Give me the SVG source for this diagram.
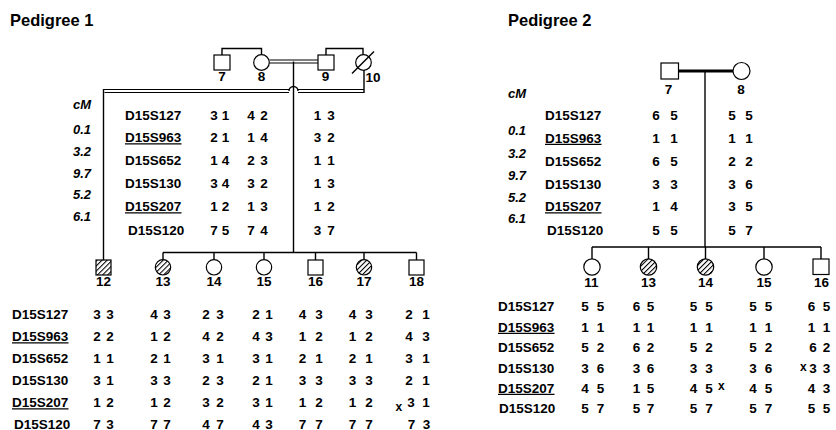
<svg xmlns="http://www.w3.org/2000/svg" width="836" height="430" viewBox="0 0 836 430">
<defs>
<pattern id="hatch" patternUnits="userSpaceOnUse" width="3.6" height="3.6" patternTransform="rotate(45)">
<line x1="0.5" y1="0" x2="0.5" y2="3.6" stroke="#000" stroke-width="1.1"/>
</pattern>
</defs>
<style>
.t{font-family:"Liberation Sans",Arial,Helvetica,sans-serif;font-weight:bold;fill:#000}
.title{font-size:16.5px}
.m{font-size:13.5px}
.a{font-size:13.5px}
.id{font-size:13.5px;text-anchor:middle}
.cm{font-size:13px;font-style:italic}
.x{font-size:12px}
.sym{fill:#fff;stroke:#000;stroke-width:1.2}
.hat{fill:url(#hatch);stroke:#000;stroke-width:1.2}
.ln{fill:none;stroke:#000;stroke-width:1.4}
.dbl{fill:none;stroke:#000;stroke-width:1.1}
.thick{fill:none;stroke:#000;stroke-width:3}
.ul{stroke:#000;stroke-width:1.2}
</style>
<rect width="836" height="430" fill="#fff"/>

<text class="t title" x="10" y="26">Pedigree 1</text>
<text class="t title" x="508" y="26">Pedigree 2</text>

<g id="connectors">
  <!-- Pedigree 1 -->
  <path class="ln" d="M222,55 V48.5 H261.5 V54.7"/>
  <path class="ln" d="M326,55 V48.5 H363 V54.7"/>
  <path class="dbl" d="M269.3,60 H318 M269.3,63 H318"/>
  <path class="ln" d="M293.5,61.5 V252.5"/>
  <path class="dbl" d="M103,89.5 H289 M298,89.5 H364 M104.5,92.5 H289 M298,92.5 H364"/>
  <path class="ln" d="M289,91 A4.5,4.5 0 0 1 298,91"/>
  <path class="ln" d="M364,70.3 V93"/>
  <path class="ln" d="M103.5,89 V260"/>
  <path class="ln" d="M163,252.5 H416.5 M163,252.5 V259.6 M214,252.5 V259.6 M264,252.5 V259.6 M315.5,252.5 V260 M364,252.5 V259.6 M416.5,252.5 V260"/>
  <!-- Pedigree 2 -->
  <path class="thick" d="M679,71 H733"/>
  <path class="ln" d="M705,71 V247"/>
  <path class="ln" d="M592,247 H821 M592,247 V259 M648.5,247 V259 M705.5,247 V259 M764,247 V259 M821,247 V259"/>
</g>

<!-- Pedigree 1 nodes -->
<g id="p1-7"><rect class="sym" x="214" y="55" width="16" height="15"/><text class="t id" x="222" y="81">7</text></g>
<g id="p1-8"><circle class="sym" cx="261.5" cy="62.5" r="7.8"/><text class="t id" x="261.5" y="81">8</text></g>
<g id="p1-9"><rect class="sym" x="318" y="55" width="16" height="15"/><text class="t id" x="325.5" y="81">9</text></g>
<g id="p1-10"><circle class="sym" cx="363.5" cy="62.5" r="7.8"/><line x1="352" y1="73.5" x2="374" y2="51.5" stroke="#000" stroke-width="1.4"/><text class="t id" x="373" y="82">10</text></g>
<g id="p1-12"><rect class="hat" x="96" y="260" width="15" height="15"/><text class="t id" x="103.5" y="286">12</text></g>
<g id="p1-13"><circle class="hat" cx="163" cy="267.3" r="7.7"/><text class="t id" x="163" y="286">13</text></g>
<g id="p1-14"><circle class="sym" cx="214" cy="267.3" r="7.7"/><text class="t id" x="214" y="286">14</text></g>
<g id="p1-15"><circle class="sym" cx="264" cy="267.3" r="7.7"/><text class="t id" x="264" y="286">15</text></g>
<g id="p1-16"><rect class="sym" x="308" y="260" width="15" height="15"/><text class="t id" x="315.5" y="286">16</text></g>
<g id="p1-17"><circle class="hat" cx="364" cy="267.3" r="7.7"/><text class="t id" x="364" y="286">17</text></g>
<g id="p1-18"><rect class="sym" x="409" y="260" width="15" height="15"/><text class="t id" x="416.5" y="286">18</text></g>

<!-- Pedigree 1 upper table -->
<g id="p1-cm" class="t cm">
  <text x="73" y="108.5">cM</text>
  <text x="73" y="133.5">0.1</text>
  <text x="73" y="155.5">3.2</text>
  <text x="73" y="177.5">9.7</text>
  <text x="73" y="199">5.2</text>
  <text x="73" y="220.5">6.1</text>
</g>
<g id="p1-markers-top" class="t m">
  <text x="125" y="119.5">D15S127</text>
  <text x="125" y="142">D15S963</text>
  <text x="125" y="165">D15S652</text>
  <text x="125" y="188">D15S130</text>
  <text x="125" y="211">D15S207</text>
  <text x="128" y="235">D15S120</text>
  <line class="ul" x1="125" y1="143.8" x2="181.5" y2="143.8"/>
  <line class="ul" x1="125" y1="212.8" x2="181.5" y2="212.8"/>
</g>
<g id="p1-haplo-top" class="t a">
  <text><tspan x="210.25 217.75 221.75" y="119.5">3 1</tspan><tspan x="210.25 217.75 221.75" y="142">2 1</tspan><tspan x="210.25 217.75 221.75" y="165">1 4</tspan><tspan x="210.25 217.75 221.75" y="188">3 4</tspan><tspan x="210.25 217.75 221.75" y="211">1 2</tspan><tspan x="210.25 217.75 221.75" y="235">7 5</tspan></text>
  <text><tspan x="247.25 254.75 260.25" y="119.5">4 2</tspan><tspan x="247.25 254.75 260.25" y="142">1 4</tspan><tspan x="247.25 254.75 260.25" y="165">2 3</tspan><tspan x="247.25 254.75 260.25" y="188">3 2</tspan><tspan x="247.25 254.75 260.25" y="211">1 3</tspan><tspan x="247.25 254.75 260.25" y="235">7 4</tspan></text>
  <text><tspan x="313.75 321.25 327.25" y="119.5">1 3</tspan><tspan x="313.75 321.25 327.25" y="142">3 2</tspan><tspan x="313.75 321.25 327.25" y="165">1 1</tspan><tspan x="313.75 321.25 327.25" y="188">1 3</tspan><tspan x="313.75 321.25 327.25" y="211">1 2</tspan><tspan x="313.75 321.25 327.25" y="235">3 7</tspan></text>
</g>

<!-- Pedigree 1 lower table -->
<g id="p1-markers-bottom" class="t m">
  <text x="12" y="318.5">D15S127</text>
  <text x="12" y="341">D15S963</text>
  <text x="12" y="363">D15S652</text>
  <text x="12" y="385">D15S130</text>
  <text x="12" y="407">D15S207</text>
  <text x="14" y="428.5">D15S120</text>
  <line class="ul" x1="12" y1="342.8" x2="68.5" y2="342.8"/>
  <line class="ul" x1="12" y1="408.8" x2="68.5" y2="408.8"/>
</g>
<g id="p1-haplo-bottom" class="t a">
  <text><tspan x="93.25 100.75 106.25" y="318.5">3 3</tspan><tspan x="93.25 100.75 106.25" y="341">2 2</tspan><tspan x="93.25 100.75 106.25" y="363">1 1</tspan><tspan x="93.25 100.75 106.25" y="385">3 1</tspan><tspan x="93.25 100.75 106.25" y="407">1 2</tspan><tspan x="93.25 100.75 106.25" y="428.5">7 3</tspan></text>
  <text><tspan x="150.25 157.75 163.25" y="318.5">4 3</tspan><tspan x="150.25 157.75 163.25" y="341">1 2</tspan><tspan x="150.25 157.75 163.25" y="363">2 1</tspan><tspan x="150.25 157.75 163.25" y="385">3 3</tspan><tspan x="150.25 157.75 163.25" y="407">1 2</tspan><tspan x="150.25 157.75 163.25" y="428.5">7 7</tspan></text>
  <text><tspan x="202.25 209.75 216.25" y="318.5">2 3</tspan><tspan x="202.25 209.75 216.25" y="341">4 2</tspan><tspan x="202.25 209.75 216.25" y="363">3 1</tspan><tspan x="202.25 209.75 216.25" y="385">2 3</tspan><tspan x="202.25 209.75 216.25" y="407">3 2</tspan><tspan x="202.25 209.75 216.25" y="428.5">4 7</tspan></text>
  <text><tspan x="252.25 259.75 265.25" y="318.5">2 1</tspan><tspan x="252.25 259.75 265.25" y="341">4 3</tspan><tspan x="252.25 259.75 265.25" y="363">3 1</tspan><tspan x="252.25 259.75 265.25" y="385">2 1</tspan><tspan x="252.25 259.75 265.25" y="407">3 1</tspan><tspan x="252.25 259.75 265.25" y="428.5">4 3</tspan></text>
  <text><tspan x="298.75 306.25 315.25" y="318.5">4 3</tspan><tspan x="298.75 306.25 315.25" y="341">1 2</tspan><tspan x="298.75 306.25 315.25" y="363">2 1</tspan><tspan x="298.75 306.25 315.25" y="385">3 3</tspan><tspan x="298.75 306.25 315.25" y="407">1 2</tspan><tspan x="298.75 306.25 315.25" y="428.5">7 7</tspan></text>
  <text><tspan x="348.75 356.25 365.25" y="318.5">4 3</tspan><tspan x="348.75 356.25 365.25" y="341">1 2</tspan><tspan x="348.75 356.25 365.25" y="363">2 1</tspan><tspan x="348.75 356.25 365.25" y="385">3 3</tspan><tspan x="348.75 356.25 365.25" y="407">1 2</tspan><tspan x="348.75 356.25 365.25" y="428.5">7 7</tspan></text>
  <text><tspan x="405.25 412.75 422.25" y="318.5">2 1</tspan><tspan x="405.25 412.75 422.25" y="341">4 3</tspan><tspan x="405.25 412.75 422.25" y="363">3 1</tspan><tspan x="405.25 412.75 422.25" y="385">2 1</tspan><tspan x="407.25 414.75 422.25" y="407">3 1</tspan><tspan x="407.75 415.25 422.75" y="428.5">7 3</tspan></text>
  <text class="x" x="395.5" y="410.5">x</text>
</g>

<!-- Pedigree 2 nodes -->
<g id="p2-7"><rect class="sym" x="661" y="63" width="17.5" height="16"/><text class="t id" x="668.5" y="93.5">7</text></g>
<g id="p2-8"><circle class="sym" cx="741.5" cy="71" r="8.5"/><text class="t id" x="741" y="93.5">8</text></g>
<g id="p2-11"><circle class="sym" cx="592" cy="267" r="8.2"/><text class="t id" x="591.5" y="286.5">11</text></g>
<g id="p2-13"><circle class="hat" cx="648.5" cy="267" r="8.2"/><text class="t id" x="648.5" y="286.5">13</text></g>
<g id="p2-14"><circle class="hat" cx="705.5" cy="267" r="8.2"/><text class="t id" x="705.5" y="286.5">14</text></g>
<g id="p2-15"><circle class="sym" cx="764" cy="267" r="8.2"/><text class="t id" x="764" y="286.5">15</text></g>
<g id="p2-16"><rect class="sym" x="813" y="259" width="16" height="15.5"/><text class="t id" x="821.5" y="286.5">16</text></g>

<!-- Pedigree 2 upper table -->
<g id="p2-cm" class="t cm">
  <text x="508" y="98">cM</text>
  <text x="508" y="135">0.1</text>
  <text x="508" y="158">3.2</text>
  <text x="508" y="180">9.7</text>
  <text x="508" y="201.5">5.2</text>
  <text x="508" y="223">6.1</text>
</g>
<g id="p2-markers-top" class="t m">
  <text x="545" y="119.5">D15S127</text>
  <text x="545" y="142.5">D15S963</text>
  <text x="545" y="166">D15S652</text>
  <text x="545" y="188.5">D15S130</text>
  <text x="545" y="211">D15S207</text>
  <text x="547" y="235">D15S120</text>
  <line class="ul" x1="545" y1="144.3" x2="601.5" y2="144.3"/>
  <line class="ul" x1="545" y1="212.8" x2="601.5" y2="212.8"/>
</g>
<g id="p2-haplo-top" class="t a">
  <text><tspan x="652.25 659.75 670.25" y="119.5">6 5</tspan><tspan x="652.25 659.75 670.25" y="142.5">1 1</tspan><tspan x="652.25 659.75 670.25" y="166">6 5</tspan><tspan x="652.25 659.75 670.25" y="188.5">3 3</tspan><tspan x="652.25 659.75 670.25" y="211">1 4</tspan><tspan x="652.25 659.75 670.25" y="235">5 5</tspan></text>
  <text><tspan x="728.25 735.75 745.25" y="119.5">5 5</tspan><tspan x="728.25 735.75 745.25" y="142.5">1 1</tspan><tspan x="728.25 735.75 745.25" y="166">2 2</tspan><tspan x="728.25 735.75 745.25" y="188.5">3 6</tspan><tspan x="728.25 735.75 745.25" y="211">3 5</tspan><tspan x="728.25 735.75 745.25" y="235">5 7</tspan></text>
</g>

<!-- Pedigree 2 lower table -->
<g id="p2-markers-bottom" class="t m">
  <text x="498" y="311">D15S127</text>
  <text x="498" y="331.5">D15S963</text>
  <text x="498" y="352">D15S652</text>
  <text x="498" y="372.5">D15S130</text>
  <text x="498" y="392.5">D15S207</text>
  <text x="499" y="413">D15S120</text>
  <line class="ul" x1="498" y1="333.3" x2="554.5" y2="333.3"/>
  <line class="ul" x1="498" y1="394.3" x2="554.5" y2="394.3"/>
</g>
<g id="p2-haplo-bottom" class="t a">
  <text><tspan x="581.25 588.75 596.75" y="311">5 5</tspan><tspan x="581.25 588.75 596.75" y="331.5">1 1</tspan><tspan x="581.25 588.75 596.75" y="352">5 2</tspan><tspan x="581.25 588.75 596.75" y="372.5">3 6</tspan><tspan x="581.25 588.75 596.75" y="392.5">4 5</tspan><tspan x="581.25 588.75 596.75" y="413">5 7</tspan></text>
  <text><tspan x="632.75 640.25 646.75" y="311">6 5</tspan><tspan x="632.75 640.25 646.75" y="331.5">1 1</tspan><tspan x="632.75 640.25 646.75" y="352">6 2</tspan><tspan x="632.75 640.25 646.75" y="372.5">3 6</tspan><tspan x="632.75 640.25 646.75" y="392.5">1 5</tspan><tspan x="632.75 640.25 646.75" y="413">5 7</tspan></text>
  <text><tspan x="689.75 697.25 705.25" y="311">5 5</tspan><tspan x="689.75 697.25 705.25" y="331.5">1 1</tspan><tspan x="689.75 697.25 705.25" y="352">5 2</tspan><tspan x="689.75 697.25 705.25" y="372.5">3 3</tspan><tspan x="689.75 697.25 705.25" y="392.5">4 5</tspan><tspan x="689.75 697.25 705.25" y="413">5 7</tspan></text>
  <text><tspan x="749.25 756.75 764.75" y="311">5 5</tspan><tspan x="749.25 756.75 764.75" y="331.5">1 1</tspan><tspan x="749.25 756.75 764.75" y="352">5 2</tspan><tspan x="749.25 756.75 764.75" y="372.5">3 6</tspan><tspan x="749.25 756.75 764.75" y="392.5">4 5</tspan><tspan x="749.25 756.75 764.75" y="413">5 7</tspan></text>
  <text><tspan x="807.75 815.25 822.75" y="311">6 5</tspan><tspan x="807.75 815.25 822.75" y="331.5">1 1</tspan><tspan x="809.25 816.75 822.75" y="352">6 2</tspan><tspan x="809.25 816.75 822.75" y="372.5">3 3</tspan><tspan x="807.75 815.25 822.75" y="392.5">4 3</tspan><tspan x="807.75 815.25 822.75" y="413">5 5</tspan></text>
  <text class="x" x="718" y="389.5">x</text>
  <text class="x" x="800" y="371">x</text>
</g>
</svg>
